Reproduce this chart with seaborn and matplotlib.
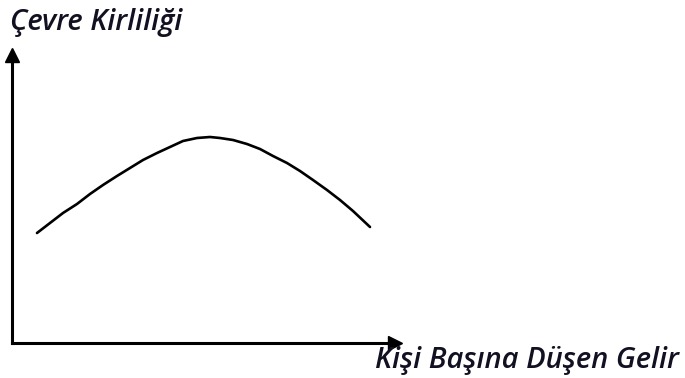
import matplotlib
matplotlib.use('Agg')
import matplotlib.pyplot as plt
import pandas as pd
import seaborn as sns

# Kuznets egrisi - okunan degerler (gelir, kirlilik)
gelir = [25, 38, 51, 65, 78, 91, 105, 118, 131, 145, 158, 171, 185, 198,
         208, 221, 235, 248, 261, 275, 288, 301, 315, 328, 341, 358]
kirlilik = [110, 120, 130, 139, 149, 158, 167, 175, 183, 190, 196, 202, 205, 206,
            205, 203, 199, 194, 187, 180, 172, 163, 153, 143, 132, 116]
x_etiket = 'Kişi Başına Düşen Gelir'
y_etiket = 'Çevre Kirliliği'

df = pd.DataFrame({'Gelir': gelir, 'Kirlilik': kirlilik})

sns.set_style('white')
plt.rcParams['font.family'] = ['Open Sans', 'DejaVu Sans']

W, H = 685, 378
fig = plt.figure(figsize=(W / 100, H / 100), dpi=100)
ax = fig.add_axes([12 / W, 35 / H, 383 / W, 288 / H])

sns.lineplot(data=df, x='Gelir', y='Kirlilik', color='black', linewidth=1.9, ax=ax)

ax.set_xlim(0, 383)
ax.set_ylim(0, 288)
ax.set_xticks([])
ax.set_yticks([])
ax.set_xlabel('')
ax.set_ylabel('')
for s in ['top', 'right']:
    ax.spines[s].set_visible(False)
for s in ['left', 'bottom']:
    ax.spines[s].set_linewidth(2.2)
    ax.spines[s].set_color('black')

# ok uclari
ax.plot(1, 0, '>', color='black', markersize=10, transform=ax.get_yaxis_transform(), clip_on=False)
ax.plot(0, 1, '^', color='black', markersize=10, transform=ax.get_xaxis_transform(), clip_on=False)

fig.text(10 / W, 1 - 30 / H, y_etiket, fontsize=21, style='italic', fontweight='semibold',
         color='#111122', ha='left', va='baseline')
fig.text(375 / W, 1 - 368 / H, x_etiket, fontsize=21, style='italic', fontweight='semibold',
         color='#111122', ha='left', va='baseline')

fig.savefig('out.png', dpi=100)
